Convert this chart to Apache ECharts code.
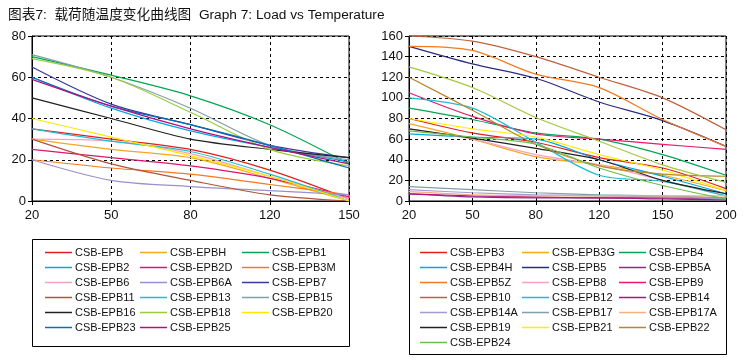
<!DOCTYPE html>
<html><head><meta charset="utf-8">
<script src="https://cdn.jsdelivr.net/npm/echarts@6/dist/echarts.min.js"></script>
<style>html,body{margin:0;padding:0;background:#fff}#c{width:744px;height:363px}</style>
</head><body><div id="c"></div>
<script>
const leftCategories = ['20','50','80','120','150'];
const rightCategories = ['20','50','80','120','150','200'];
const leftTicks = [0,20,40,60,80];
const rightTicks = [0,20,40,60,80,100,120,140,160];

// Left chart series (values at 20,50,80,120,150)
const L_EPB   = [35, 30, 25, 15, 1];
const L_EPBH  = [30, 25, 21, 11, 0];
const L_EPB1  = [70, 61, 51, 37, 18];
const L_EPB2  = [60, 45, 34, 26, 19];
const L_EPB2D = [25, 21, 17, 11, 2];
const L_EPB3M = [20, 16, 13, 8, 3];
const L_EPB6  = [30, 29, 23, 12, 1];
const L_EPB6A = [20, 10, 7, 5, 3];
const L_EPB7  = [65, 47, 37, 27, 21];
const L_EPB11 = [30, 18, 10, 3, 0];
const L_EPB13 = [35, 29, 24, 13, 0];
const L_EPB15 = [71, 60, 45, 27, 20];
const L_EPB16 = [50, 40, 30, 25, 21];
const L_EPB18 = [69, 60, 43, 25, 17];
const L_EPB20 = [40, 31, 22, 12, 0];
const L_EPB23 = [60, 46, 37, 27, 16];
const L_EPB25 = [59, 46, 35, 26, 18];

// Right chart series (values at 20,50,80,120,150,200)
const R_EPB3   = [80, 66, 57, 42, 32, 12];
const R_EPB3G  = [75, 60, 43, 35, 25, 10];
const R_EPB4   = [90, 79, 66, 60, 45, 25];
const R_EPB4H  = [65, 62, 60, 40, 24, 7];
const R_EPB5   = [150, 133, 119, 96, 78, 53];
const R_EPB5A  = [7, 4, 3, 3, 2, 1];
const R_EPB5Z  = [150, 146, 123, 110, 79, 53];
const R_EPB8   = [70, 60, 45, 35, 20, 5];
const R_EPB9   = [105, 82, 65, 60, 55, 50];
const R_EPB10  = [160, 155, 140, 120, 100, 69];
const R_EPB12  = [100, 90, 57, 25, 19, 5];
const R_EPB14  = [7, 5, 4, 3, 3, 2];
const R_EPB14A = [11, 8, 6, 5, 4, 2];
const R_EPB17  = [14, 11, 8, 6, 5, 3];
const R_EPB17A = [9, 6, 5, 5, 5, 5];
const R_EPB19  = [70, 61, 51, 40, 20, 7];
const R_EPB21  = [80, 70, 62, 45, 30, 10];
const R_EPB22  = [120, 88, 55, 34, 26, 24];
const R_EPB24  = [68, 62, 55, 32, 15, 2];
const R_EXTRA  = [130, 110, 81, 58, 35, 18];

const leftSeries = [
  ['CSB-EPB', L_EPB, '#e41e1e'], ['CSB-EPBH', L_EPBH, '#f5a623'], ['CSB-EPB1', L_EPB1, '#00a651'],
  ['CSB-EPB2', L_EPB2, '#00a8e8'], ['CSB-EPB2D', L_EPB2D, '#e0136f'], ['CSB-EPB3M', L_EPB3M, '#f47920'],
  ['CSB-EPB6', L_EPB6, '#f7a1c4'], ['CSB-EPB6A', L_EPB6A, '#9b8fcf'], ['CSB-EPB7', L_EPB7, '#3a3a9a'],
  ['CSB-EPB11', L_EPB11, '#b0553a'], ['CSB-EPB13', L_EPB13, '#1fbfcf'], ['CSB-EPB15', L_EPB15, '#7f9fab'],
  ['CSB-EPB16', L_EPB16, '#222222'], ['CSB-EPB18', L_EPB18, '#9acd3c'], ['CSB-EPB20', L_EPB20, '#ffe600'],
  ['CSB-EPB23', L_EPB23, '#0072bc'], ['CSB-EPB25', L_EPB25, '#b0137e']
];
const rightSeries = [
  ['CSB-EPB3', R_EPB3, '#e41e1e'], ['CSB-EPB3G', R_EPB3G, '#f5a623'], ['CSB-EPB4', R_EPB4, '#00a651'],
  ['CSB-EPB4H', R_EPB4H, '#00a8e8'], ['CSB-EPB5', R_EPB5, '#2b2b80'], ['CSB-EPB5A', R_EPB5A, '#92278f'],
  ['CSB-EPB5Z', R_EPB5Z, '#f47920'], ['CSB-EPB8', R_EPB8, '#f7a1c4'], ['CSB-EPB9', R_EPB9, '#e8196e'],
  ['CSB-EPB10', R_EPB10, '#c0603e'], ['CSB-EPB12', R_EPB12, '#1fbfcf'], ['CSB-EPB14', R_EPB14, '#b0137e'],
  ['CSB-EPB14A', R_EPB14A, '#a59bd0'], ['CSB-EPB17', R_EPB17, '#7f9fab'], ['CSB-EPB17A', R_EPB17A, '#f8b080'],
  ['CSB-EPB19', R_EPB19, '#222222'], ['CSB-EPB21', R_EPB21, '#ffee00'], ['CSB-EPB22', R_EPB22, '#b8862b'],
  ['CSB-EPB24', R_EPB24, '#6cbf4a']
];
const rightExtra = ['CSB-EPB24 ', R_EXTRA, '#a2c83c'];

const FONT = '"Liberation Sans", Arial, "Noto Sans CJK SC", sans-serif';
const chart = echarts.init(document.getElementById('c'));

function axesFor(idx, cats, ticks) {
  const x = {
    type: 'category', gridIndex: idx, data: cats, boundaryGap: false,
    axisLine: {lineStyle: {color: '#000', width: 1}},
    axisTick: {show: true, length: 4, alignWithLabel: true, lineStyle: {color: '#000'}},
    axisLabel: {color: '#111', fontSize: 13, fontFamily: FONT, margin: 8},
    splitLine: {show: true, lineStyle: {color: '#000', type: [3, 3], width: 1}}
  };
  const y = {
    type: 'value', gridIndex: idx, min: ticks[0], max: ticks[ticks.length - 1], interval: ticks[1] - ticks[0],
    axisLine: {show: true, lineStyle: {color: '#000', width: 1}},
    axisTick: {show: true, length: 4, lineStyle: {color: '#000'}},
    axisLabel: {color: '#111', fontSize: 13, fontFamily: FONT, margin: 6},
    splitLine: {show: true, lineStyle: {color: '#000', type: [3, 3], width: 1}}
  };
  return [x, y];
}

function makeSeries(list, idx) {
  return list.map(s => ({
    name: s[0], type: 'line', xAxisIndex: idx, yAxisIndex: idx, data: s[1],
    smooth: 0.3, symbol: 'none', showSymbol: false, lineStyle: {color: s[2], width: 1.2}, itemStyle: {color: s[2]},
    z: 3
  }));
}

function legendCols(list, xs, top) {
  const cols = [];
  for (let c = 0; c < 3; c++) {
    const names = list.filter((_, i) => i % 3 === c).map(s => s[0]);
    cols.push({
      orient: 'vertical', left: xs[c], top: top, data: names, itemGap: 0, padding: 0,
      icon: 'rect', itemWidth: 27, itemHeight: 1.5, selectedMode: false,
      textStyle: {fontSize: 11, color: '#111', fontFamily: FONT, lineHeight: 15, padding: [0, 0, 0, -2]}
    });
  }
  return cols;
}

const [lx, ly] = axesFor(0, leftCategories, leftTicks);
const [rx, ry] = axesFor(1, rightCategories, rightTicks);

chart.setOption({
  animation: false,
  title: {text: '图表7:  载荷随温度变化曲线图  Graph 7: Load vs Temperature', left: 3, top: 3,
    textStyle: {fontSize: 13.7, fontWeight: 'normal', color: '#111', fontFamily: FONT}},
  grid: [
    {left: 32, top: 36, width: 317, height: 165, show: true, borderColor: '#000', borderWidth: 1, backgroundColor: 'transparent'},
    {left: 409, top: 36, width: 317, height: 165, show: true, borderColor: '#000', borderWidth: 1, backgroundColor: 'transparent'}
  ],
  xAxis: [lx, rx],
  yAxis: [ly, ry],
  legend: [].concat(legendCols(leftSeries, [45, 140, 242], 245), legendCols(rightSeries, [420, 522, 619], 245)),
  graphic: [
    {type: 'rect', shape: {x: 32.5, y: 239.5, width: 317, height: 107}, style: {fill: 'none', stroke: '#000', lineWidth: 1}},
    {type: 'rect', shape: {x: 409.5, y: 238.5, width: 317, height: 116}, style: {fill: 'none', stroke: '#000', lineWidth: 1}}
  ],
  series: makeSeries(leftSeries, 0).concat(makeSeries(rightSeries, 1), makeSeries([rightExtra], 1))
});
</script></body></html>
